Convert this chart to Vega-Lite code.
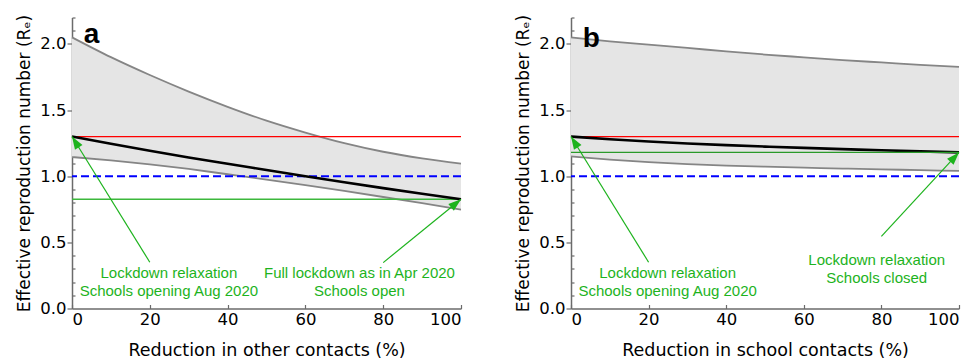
{
  "$schema": "https://vega.github.io/schema/vega-lite/v6.json",
  "padding": {"left": 15, "top": 13.5, "right": 0, "bottom": 0},
  "background": "white",
  "config": {
    "font": "DejaVu Sans",
    "view": {"stroke": null},
    "axis": {
      "domainColor": "#6b6b6b", "domainWidth": 1.5, "tickColor": "#6b6b6b", "tickWidth": 1.2,
      "labelColor": "#000000", "titleColor": "#000000",
      "labelFont": "DejaVu Sans", "titleFont": "DejaVu Sans",
      "labelFontSize": 16.5, "titleFontSize": 17.5, "titleFontWeight": "normal", "grid": false
    }
  },
  "datasets": {
    "curves": [
      {"panel": "a", "x": 0, "lo": 1.145, "mid": 1.30, "hi": 2.05},
      {"panel": "a", "x": 10, "lo": 1.12, "mid": 1.246, "hi": 1.90},
      {"panel": "a", "x": 20, "lo": 1.09, "mid": 1.193, "hi": 1.765},
      {"panel": "a", "x": 30, "lo": 1.055, "mid": 1.142, "hi": 1.64},
      {"panel": "a", "x": 40, "lo": 1.015, "mid": 1.094, "hi": 1.525},
      {"panel": "a", "x": 50, "lo": 0.975, "mid": 1.047, "hi": 1.42},
      {"panel": "a", "x": 60, "lo": 0.933, "mid": 1.0, "hi": 1.33},
      {"panel": "a", "x": 70, "lo": 0.889, "mid": 0.954, "hi": 1.25},
      {"panel": "a", "x": 80, "lo": 0.843, "mid": 0.91, "hi": 1.185},
      {"panel": "a", "x": 90, "lo": 0.796, "mid": 0.867, "hi": 1.135},
      {"panel": "a", "x": 100, "lo": 0.748, "mid": 0.826, "hi": 1.096},
      {"panel": "b", "x": 0, "lo": 1.15, "mid": 1.30, "hi": 2.05},
      {"panel": "b", "x": 10, "lo": 1.126, "mid": 1.28, "hi": 2.02},
      {"panel": "b", "x": 20, "lo": 1.107, "mid": 1.263, "hi": 1.995},
      {"panel": "b", "x": 30, "lo": 1.092, "mid": 1.248, "hi": 1.97},
      {"panel": "b", "x": 40, "lo": 1.08, "mid": 1.235, "hi": 1.944},
      {"panel": "b", "x": 50, "lo": 1.072, "mid": 1.224, "hi": 1.92},
      {"panel": "b", "x": 60, "lo": 1.065, "mid": 1.214, "hi": 1.899},
      {"panel": "b", "x": 70, "lo": 1.058, "mid": 1.205, "hi": 1.878},
      {"panel": "b", "x": 80, "lo": 1.052, "mid": 1.196, "hi": 1.86},
      {"panel": "b", "x": 90, "lo": 1.046, "mid": 1.188, "hi": 1.842},
      {"panel": "b", "x": 100, "lo": 1.04, "mid": 1.18, "hi": 1.826}
    ],
    "hlines": [
      {"panel": "a", "kind": "red", "y": 1.30},
      {"panel": "a", "kind": "blue", "y": 1.0},
      {"panel": "a", "kind": "green", "y": 0.826},
      {"panel": "b", "kind": "red", "y": 1.30},
      {"panel": "b", "kind": "blue", "y": 1.0},
      {"panel": "b", "kind": "green", "y": 1.18}
    ],
    "arrows": [
      {"panel": "a", "id": "left", "x": 20, "y": 0.35, "x2": 0, "y2": 1.30},
      {"panel": "a", "id": "right", "x": 80, "y": 0.347, "x2": 100, "y2": 0.826},
      {"panel": "b", "id": "left", "x": 20, "y": 0.35, "x2": 0, "y2": 1.30},
      {"panel": "b", "id": "right", "x": 80, "y": 0.545, "x2": 100, "y2": 1.18}
    ],
    "notes": [
      {"panel": "a", "x": 24.9, "y": 0.267, "text": "Lockdown relaxation"},
      {"panel": "a", "x": 24.9, "y": 0.136, "text": "Schools opening Aug 2020"},
      {"panel": "a", "x": 73.9, "y": 0.267, "text": "Full lockdown as in Apr 2020"},
      {"panel": "a", "x": 73.9, "y": 0.136, "text": "Schools open"},
      {"panel": "b", "x": 24.9, "y": 0.267, "text": "Lockdown relaxation"},
      {"panel": "b", "x": 24.9, "y": 0.136, "text": "Schools opening Aug 2020"},
      {"panel": "b", "x": 78.8, "y": 0.364, "text": "Lockdown relaxation"},
      {"panel": "b", "x": 78.8, "y": 0.233, "text": "Schools closed"}
    ],
    "letters": [
      {"panel": "a", "x": 3, "y": 2.005, "text": "a"},
      {"panel": "b", "x": 3, "y": 1.975, "text": "b"}
    ]
  },
  "spacing": 47,
  "hconcat": [
    {
      "width": 389, "height": 291,
      "encoding": {
        "x": {"type": "quantitative", "scale": {"domain": [0, 100], "nice": false},
          "axis": {"title": "Reduction in other contacts (%)", "values": [0, 20, 40, 60, 80, 100], "tickSize": -4, "labelPadding": 7, "titlePadding": 13.5, "labelFontSize": 16.5, "titleFontSize": 17.5}},
        "y": {"type": "quantitative", "scale": {"domain": [0, 2.2], "nice": false},
          "axis": {"title": "Effective reproduction number (Rₑ)",
            "values": [0, 0.1, 0.2, 0.3, 0.4, 0.5, 0.6, 0.7, 0.8, 0.9, 1.0, 1.1, 1.2, 1.3, 1.4, 1.5, 1.6, 1.7, 1.8, 1.9, 2.0, 2.1, 2.2],
            "labelExpr": "round(datum.value*10) % 5 === 0 ? format(datum.value, '.1f') : ''",
            "tickSize": {"condition": {"test": "round(datum.value*10) % 5 === 0", "value": 5}, "value": -3},
            "labelPadding": 1, "titlePadding": 6, "labelFontSize": 16.5, "titleFontSize": 17}}
      },
      "layer": [
        {
          "data": {"name": "curves"}, "transform": [{"filter": "datum.panel === 'a'"}],
          "mark": {"type": "area", "color": "#e5e5e5", "opacity": 1, "interpolate": "monotone"},
          "encoding": {"x": {"field": "x"}, "y": {"field": "lo"}, "y2": {"field": "hi"}}
        },
        {
          "data": {"name": "curves"}, "transform": [{"filter": "datum.panel === 'a'"}],
          "mark": {"type": "line", "color": "#858585", "strokeWidth": 1.8, "interpolate": "monotone"},
          "encoding": {"x": {"field": "x"}, "y": {"field": "hi"}}
        },
        {
          "data": {"name": "curves"}, "transform": [{"filter": "datum.panel === 'a'"}],
          "mark": {"type": "line", "color": "#858585", "strokeWidth": 1.8, "interpolate": "monotone"},
          "encoding": {"x": {"field": "x"}, "y": {"field": "lo"}}
        },
        {
          "data": {"name": "hlines"}, "transform": [{"filter": "datum.panel === 'a' && datum.kind === 'red'"}],
          "mark": {"type": "rule", "color": "#ff0000", "strokeWidth": 1.2},
          "encoding": {"x": null, "y": {"field": "y"}}
        },
        {
          "data": {"name": "hlines"}, "transform": [{"filter": "datum.panel === 'a' && datum.kind === 'green'"}],
          "mark": {"type": "rule", "color": "#3cb83c", "strokeWidth": 1.3},
          "encoding": {"x": null, "y": {"field": "y"}}
        },
        {
          "data": {"name": "hlines"}, "transform": [{"filter": "datum.panel === 'a' && datum.kind === 'blue'"}],
          "mark": {"type": "rule", "color": "#0000ff", "strokeWidth": 2, "strokeDash": [8, 4]},
          "encoding": {"x": null, "y": {"field": "y"}}
        },
        {
          "data": {"name": "curves"}, "transform": [{"filter": "datum.panel === 'a'"}],
          "mark": {"type": "line", "color": "#000000", "strokeWidth": 2.6, "interpolate": "monotone"},
          "encoding": {"x": {"field": "x"}, "y": {"field": "mid"}}
        },
        {
          "data": {"name": "arrows"}, "transform": [{"filter": "datum.panel === 'a'"}],
          "mark": {"type": "rule", "color": "#1db31d", "strokeWidth": 1.2},
          "encoding": {"x": {"field": "x"}, "y": {"field": "y"}, "x2": {"field": "x2"}, "y2": {"field": "y2"}}
        },
        {
          "data": {"name": "arrows"}, "transform": [{"filter": "datum.panel === 'a' && datum.id === 'left'"}],
          "mark": {"type": "point", "shape": "M0,0L-0.55,1.6L0.55,1.6Z", "filled": true, "color": "#1db31d", "opacity": 1, "size": 256, "angle": 328.3},
          "encoding": {"x": {"field": "x2"}, "y": {"field": "y2"}}
        },
        {
          "data": {"name": "arrows"}, "transform": [{"filter": "datum.panel === 'a' && datum.id === 'right'"}],
          "mark": {"type": "point", "shape": "M0,0L-0.55,1.6L0.55,1.6Z", "filled": true, "color": "#1db31d", "opacity": 1, "size": 256, "angle": 50.8},
          "encoding": {"x": {"field": "x2"}, "y": {"field": "y2"}}
        },
        {
          "data": {"name": "notes"}, "transform": [{"filter": "datum.panel === 'a'"}],
          "mark": {"type": "text", "color": "#1db31d", "fontSize": 15, "font": "Liberation Sans", "align": "center", "baseline": "middle"},
          "encoding": {"x": {"field": "x"}, "y": {"field": "y"}, "text": {"field": "text"}}
        },
        {
          "data": {"name": "letters"}, "transform": [{"filter": "datum.panel === 'a'"}],
          "mark": {"type": "text", "color": "#000000", "fontSize": 28, "fontWeight": "bold", "font": "Liberation Sans", "align": "left", "baseline": "alphabetic"},
          "encoding": {"x": {"field": "x"}, "y": {"field": "y"}, "text": {"field": "text"}}
        }
      ]
    },
    {
      "width": 388, "height": 291,
      "encoding": {
        "x": {"type": "quantitative", "scale": {"domain": [0, 100], "nice": false},
          "axis": {"title": "Reduction in school contacts (%)", "values": [0, 20, 40, 60, 80, 100], "tickSize": -4, "labelPadding": 7, "titlePadding": 13.5, "labelFontSize": 16.5, "titleFontSize": 17.5}},
        "y": {"type": "quantitative", "scale": {"domain": [0, 2.2], "nice": false},
          "axis": {"title": "Effective reproduction number (Rₑ)",
            "values": [0, 0.1, 0.2, 0.3, 0.4, 0.5, 0.6, 0.7, 0.8, 0.9, 1.0, 1.1, 1.2, 1.3, 1.4, 1.5, 1.6, 1.7, 1.8, 1.9, 2.0, 2.1, 2.2],
            "labelExpr": "round(datum.value*10) % 5 === 0 ? format(datum.value, '.1f') : ''",
            "tickSize": {"condition": {"test": "round(datum.value*10) % 5 === 0", "value": 5}, "value": -3},
            "labelPadding": 1, "titlePadding": 6, "labelFontSize": 16.5, "titleFontSize": 17}}
      },
      "layer": [
        {
          "data": {"name": "curves"}, "transform": [{"filter": "datum.panel === 'b'"}],
          "mark": {"type": "area", "color": "#e5e5e5", "opacity": 1, "interpolate": "monotone"},
          "encoding": {"x": {"field": "x"}, "y": {"field": "lo"}, "y2": {"field": "hi"}}
        },
        {
          "data": {"name": "curves"}, "transform": [{"filter": "datum.panel === 'b'"}],
          "mark": {"type": "line", "color": "#858585", "strokeWidth": 1.8, "interpolate": "monotone"},
          "encoding": {"x": {"field": "x"}, "y": {"field": "hi"}}
        },
        {
          "data": {"name": "curves"}, "transform": [{"filter": "datum.panel === 'b'"}],
          "mark": {"type": "line", "color": "#858585", "strokeWidth": 1.8, "interpolate": "monotone"},
          "encoding": {"x": {"field": "x"}, "y": {"field": "lo"}}
        },
        {
          "data": {"name": "hlines"}, "transform": [{"filter": "datum.panel === 'b' && datum.kind === 'red'"}],
          "mark": {"type": "rule", "color": "#ff0000", "strokeWidth": 1.2},
          "encoding": {"x": null, "y": {"field": "y"}}
        },
        {
          "data": {"name": "hlines"}, "transform": [{"filter": "datum.panel === 'b' && datum.kind === 'blue'"}],
          "mark": {"type": "rule", "color": "#0000ff", "strokeWidth": 2, "strokeDash": [8, 4]},
          "encoding": {"x": null, "y": {"field": "y"}}
        },
        {
          "data": {"name": "curves"}, "transform": [{"filter": "datum.panel === 'b'"}],
          "mark": {"type": "line", "color": "#000000", "strokeWidth": 2.6, "interpolate": "monotone"},
          "encoding": {"x": {"field": "x"}, "y": {"field": "mid"}}
        },
        {
          "data": {"name": "hlines"}, "transform": [{"filter": "datum.panel === 'b' && datum.kind === 'green'"}],
          "mark": {"type": "rule", "color": "#2a9a2a", "strokeWidth": 1.3},
          "encoding": {"x": null, "y": {"field": "y"}}
        },
        {
          "data": {"name": "arrows"}, "transform": [{"filter": "datum.panel === 'b'"}],
          "mark": {"type": "rule", "color": "#1db31d", "strokeWidth": 1.2},
          "encoding": {"x": {"field": "x"}, "y": {"field": "y"}, "x2": {"field": "x2"}, "y2": {"field": "y2"}}
        },
        {
          "data": {"name": "arrows"}, "transform": [{"filter": "datum.panel === 'b' && datum.id === 'left'"}],
          "mark": {"type": "point", "shape": "M0,0L-0.55,1.6L0.55,1.6Z", "filled": true, "color": "#1db31d", "opacity": 1, "size": 256, "angle": 328.3},
          "encoding": {"x": {"field": "x2"}, "y": {"field": "y2"}}
        },
        {
          "data": {"name": "arrows"}, "transform": [{"filter": "datum.panel === 'b' && datum.id === 'right'"}],
          "mark": {"type": "point", "shape": "M0,0L-0.55,1.6L0.55,1.6Z", "filled": true, "color": "#1db31d", "opacity": 1, "size": 256, "angle": 42.7},
          "encoding": {"x": {"field": "x2"}, "y": {"field": "y2"}}
        },
        {
          "data": {"name": "notes"}, "transform": [{"filter": "datum.panel === 'b'"}],
          "mark": {"type": "text", "color": "#1db31d", "fontSize": 15, "font": "Liberation Sans", "align": "center", "baseline": "middle"},
          "encoding": {"x": {"field": "x"}, "y": {"field": "y"}, "text": {"field": "text"}}
        },
        {
          "data": {"name": "letters"}, "transform": [{"filter": "datum.panel === 'b'"}],
          "mark": {"type": "text", "color": "#000000", "fontSize": 28, "fontWeight": "bold", "font": "Liberation Sans", "align": "left", "baseline": "alphabetic"},
          "encoding": {"x": {"field": "x"}, "y": {"field": "y"}, "text": {"field": "text"}}
        }
      ]
    }
  ]
}
